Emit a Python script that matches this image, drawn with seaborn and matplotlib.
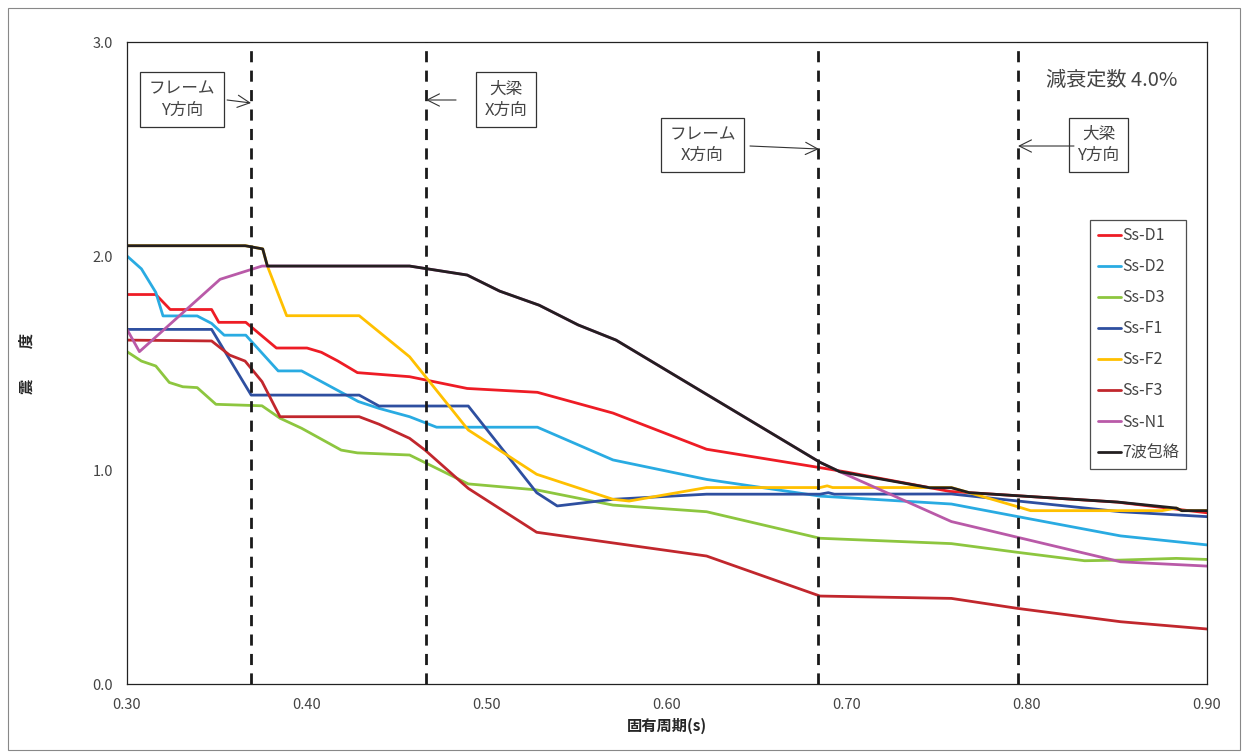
import matplotlib
matplotlib.use("Agg")
import matplotlib.pyplot as plt
import seaborn as sns
import pandas as pd
from matplotlib.patches import Rectangle

# ---------------- data ----------------
series_names = ["Ss-D1", "Ss-D2", "Ss-D3", "Ss-F1", "Ss-F2", "Ss-F3", "Ss-N1", "7波包絡"]

d1_x = [0.300, 0.316, 0.324, 0.347, 0.351, 0.366, 0.383, 0.400, 0.408, 0.417, 0.428, 0.457, 0.489, 0.528, 0.570, 0.622, 0.685, 0.700, 0.757, 0.850, 0.900]
d1_y = [1.82, 1.82, 1.75, 1.75, 1.69, 1.69, 1.57, 1.57, 1.55, 1.51, 1.455, 1.436, 1.381, 1.363, 1.266, 1.097, 1.011, 0.99, 0.90, 0.85, 0.80]

d2_x = [0.300, 0.308, 0.316, 0.320, 0.339, 0.347, 0.354, 0.366, 0.384, 0.397, 0.4285, 0.440, 0.457, 0.472, 0.528, 0.570, 0.622, 0.685, 0.758, 0.795, 0.852, 0.900]
d2_y = [2.00, 1.94, 1.83, 1.72, 1.72, 1.685, 1.63, 1.63, 1.463, 1.463, 1.32, 1.288, 1.249, 1.20, 1.20, 1.047, 0.956, 0.878, 0.841, 0.782, 0.692, 0.650]

d3_x = [0.300, 0.308, 0.316, 0.3235, 0.331, 0.339, 0.3494, 0.375, 0.385, 0.397, 0.419, 0.428, 0.457, 0.4896, 0.5276, 0.570, 0.622, 0.685, 0.758, 0.795, 0.832, 0.852, 0.883, 0.900]
d3_y = [1.553, 1.509, 1.486, 1.409, 1.389, 1.385, 1.307, 1.30, 1.242, 1.195, 1.093, 1.08, 1.07, 0.935, 0.907, 0.836, 0.805, 0.681, 0.656, 0.615, 0.576, 0.579, 0.587, 0.582]

f1_x = [0.300, 0.347, 0.369, 0.429, 0.440, 0.4896, 0.5276, 0.539, 0.570, 0.622, 0.685, 0.6896, 0.693, 0.758, 0.795, 0.852, 0.900]
f1_y = [1.657, 1.657, 1.350, 1.350, 1.299, 1.299, 0.894, 0.832, 0.863, 0.887, 0.887, 0.894, 0.887, 0.888, 0.855, 0.805, 0.782]

f2_x = [0.300, 0.366, 0.3754, 0.378, 0.3887, 0.429, 0.457, 0.4896, 0.5276, 0.570, 0.579, 0.622, 0.685, 0.689, 0.692, 0.758, 0.795, 0.802, 0.875, 0.883, 0.886, 0.900]
f2_y = [2.048, 2.048, 2.033, 1.953, 1.721, 1.721, 1.529, 1.187, 0.980, 0.863, 0.855, 0.918, 0.918, 0.926, 0.918, 0.918, 0.828, 0.81, 0.81, 0.822, 0.81, 0.81]

f3_x = [0.300, 0.347, 0.357, 0.3656, 0.375, 0.385, 0.429, 0.440, 0.457, 0.4656, 0.4896, 0.5276, 0.622, 0.685, 0.758, 0.795, 0.852, 0.900]
f3_y = [1.607, 1.603, 1.537, 1.509, 1.413, 1.249, 1.249, 1.214, 1.148, 1.093, 0.914, 0.709, 0.598, 0.411, 0.400, 0.353, 0.291, 0.257]

n1_x = [0.300, 0.3069, 0.3517, 0.375, 0.378, 0.457, 0.489, 0.507, 0.529, 0.5506, 0.5717, 0.685, 0.696, 0.758, 0.852, 0.900]
n1_y = [1.657, 1.553, 1.891, 1.953, 1.953, 1.953, 1.911, 1.836, 1.77, 1.678, 1.607, 1.036, 0.992, 0.759, 0.571, 0.551]

env_x = [0.300, 0.3656, 0.3754, 0.378, 0.457, 0.489, 0.507, 0.529, 0.5506, 0.5717, 0.685, 0.696, 0.746, 0.758, 0.768, 0.8506, 0.883, 0.886, 0.900]
env_y = [2.048, 2.048, 2.033, 1.953, 1.953, 1.911, 1.836, 1.77, 1.678, 1.607, 1.036, 0.992, 0.917, 0.917, 0.894, 0.850, 0.822, 0.81, 0.81]

# natural periods of the buildings (vertical dashed lines)
period_labels = ["フレーム\nY方向", "大梁\nX方向", "フレーム\nX方向", "大梁\nY方向"]
period_values = [0.369, 0.466, 0.684, 0.795]

x_ticks = [0.30, 0.40, 0.50, 0.60, 0.70, 0.80, 0.90]
y_ticks = [0.0, 1.0, 2.0, 3.0]

colors = ["#ee1c25", "#29abe2", "#8dc63f", "#2e4fa0", "#ffc000", "#c1272d", "#b95aa8", "#231f20"]

# ---------------- build table ----------------
xs = [d1_x, d2_x, d3_x, f1_x, f2_x, f3_x, n1_x, env_x]
ys = [d1_y, d2_y, d3_y, f1_y, f2_y, f3_y, n1_y, env_y]
rows = []
for name, xx, yy in zip(series_names, xs, ys):
    for i, (a, b) in enumerate(zip(xx, yy)):
        rows.append({"series": name, "period": a, "value": b, "order": i})
df = pd.DataFrame(rows)

# ---------------- plot ----------------
sns.set_theme(style="white")
plt.rcParams["font.family"] = ["Noto Sans CJK JP", "DejaVu Sans"]

fig = plt.figure(figsize=(12.5, 7.54), dpi=100)
ax = fig.add_axes([127 / 1250, 1 - 684 / 754, (1207 - 127) / 1250, (684 - 42) / 754])

sns.lineplot(data=df, x="period", y="value", hue="series", hue_order=series_names,
             palette=colors, estimator=None, sort=False, linewidth=2.0, ax=ax, legend=False)

for pv in period_values:
    ax.axvline(pv, color="#1a1a1a", lw=2.0, ls=(0, (4, 3)), zorder=5)

ax.set_xlim(0.30, 0.90)
ax.set_ylim(0.0, 3.0)
ax.set_xticks(x_ticks)
ax.set_xticklabels([f"{t:.2f}" for t in x_ticks], fontsize=10.5, color="#444444")
ax.set_yticks(y_ticks)
ax.set_yticklabels([f"{t:.1f}" for t in y_ticks], fontsize=10.5, color="#444444")
ax.tick_params(axis="both", direction="out", length=4, width=0.8, color="#333333", pad=6)
for s in ax.spines.values():
    s.set_color("#222222")
    s.set_linewidth(0.9)

ax.set_xlabel("固有周期(s)", fontsize=11, fontweight="bold", labelpad=4)
ax.set_ylabel("震　　度", fontsize=11, fontweight="bold", labelpad=42, rotation=90)

# legend
handles = [plt.Line2D([], [], color=c, lw=2) for c in colors]
leg = ax.legend(handles, series_names, loc="upper left", bbox_to_anchor=(0.892, 0.7227),
                fontsize=11.5, frameon=True, fancybox=False, edgecolor="#222222",
                handlelength=1.45, handletextpad=0.1, labelspacing=0.88,
                borderpad=0.45, borderaxespad=0)
leg.get_frame().set_linewidth(0.9)
for t in leg.get_texts():
    t.set_color("#444444")

# annotation boxes
box_centers = [(0.3306, 2.731), (0.5106, 2.731), (0.6197, 2.519), (0.8397, 2.519)]
arrow_starts = [(0.3556, 2.729), (0.4828, 2.729), (0.6461, 2.514), (0.8261, 2.514)]
arrow_ends = [(0.3689, 2.715), (0.4661, 2.729), (0.6844, 2.500), (0.7950, 2.514)]
for lab, c, s, e in zip(period_labels, box_centers, arrow_starts, arrow_ends):
    ax.text(c[0], c[1], lab, ha="center", va="center", fontsize=12, color="#444444",
            linespacing=1.3, zorder=6,
            bbox=dict(boxstyle="square,pad=0.5", fc="white", ec="#333333", lw=0.9))
    ax.annotate("", xy=e, xytext=s,
                arrowprops=dict(arrowstyle="->", lw=0.8, color="#333333",
                                shrinkA=0, shrinkB=0, mutation_scale=22), zorder=6)

ax.text(0.8472, 2.822, "減衰定数 4.0%", ha="center", va="center", fontsize=14.5, color="#444444")

# outer figure border
fig.patches.append(Rectangle((8 / 1250, 4 / 754), 1232 / 1250, 742 / 754, transform=fig.transFigure,
                             fill=False, ec="#888888", lw=0.8))

fig.savefig("out.png", dpi=100)
